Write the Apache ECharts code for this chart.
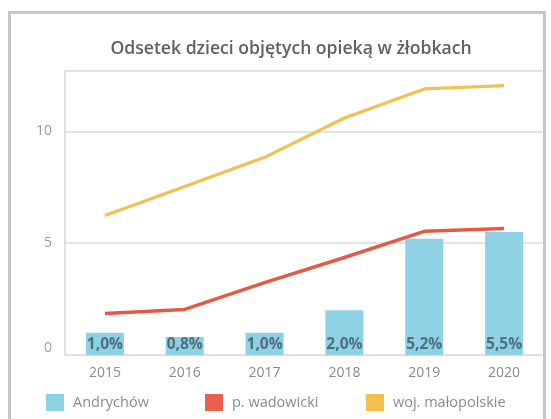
<!DOCTYPE html>
<html>
<head>
<meta charset="utf-8">
<script src="https://cdn.jsdelivr.net/npm/echarts@6/dist/echarts.min.js"></script>
<style>
html,body{margin:0;padding:0;background:#fff;}
#chart{width:551px;height:419px;}
</style>
</head>
<body>
<div id="chart"></div>
<script>
const titleText = 'Odsetek dzieci objętych opieką w żłobkach';
const years = ['2015', '2016', '2017', '2018', '2019', '2020'];
const seriesNames = ['Andrychów', 'p. wadowicki', 'woj. małopolskie'];
const andrychow = [1.0, 0.8, 1.0, 2.0, 5.2, 5.5];
const wadowicki = [1.86, 2.04, 3.24, 4.36, 5.53, 5.66];
const malopolskie = [6.24, 7.54, 8.84, 10.6, 11.9, 12.05];
const yTicks = [0, 5, 10];

const FONT = 'Open Sans';
const chart = echarts.init(document.getElementById('chart'));
function legendAt(name, left) {
  return {
    data: [name], left: left, top: 394, padding: 0, itemWidth: 18, itemHeight: 17, itemGap: 0,
    icon: 'rect',
    textStyle: { color: '#8a8a8a', fontSize: 14.5, fontFamily: FONT, padding: [0, 0, 0, 4] }
  };
}
chart.setOption({
  animation: false,
  backgroundColor: '#fff',
  title: {
    text: titleText, left: 286, textAlign: 'center', top: 35,
    textStyle: { color: '#616161', fontSize: 17.6, fontWeight: 600, fontFamily: FONT }
  },
  legend: [
    legendAt(seriesNames[0], 46),
    legendAt(seriesNames[1], 205),
    legendAt(seriesNames[2], 366)
  ],
  grid: { left: 65, right: 7, top: 71, bottom: 64 },
  xAxis: {
    type: 'category', data: years, boundaryGap: true,
    axisLine: { show: true, lineStyle: { color: '#dcdcdc', width: 1 } },
    axisTick: { show: false },
    axisLabel: { color: '#8a8a8a', fontSize: 14, fontFamily: FONT, margin: 11 }
  },
  yAxis: {
    type: 'value', min: 0, max: 12.7, interval: 5,
    axisLine: { show: true, lineStyle: { color: '#d6d6d6', width: 1.5 } },
    axisTick: { show: false },
    axisLabel: {
      color: '#9a9a9a', fontSize: 14, fontFamily: FONT, margin: 13, showMaxLabel: false,
      formatter: v => v === 0 ? '{z|0}' : (yTicks.includes(v) ? String(v) : ''),
      rich: { z: { color: '#9a9a9a', fontSize: 14, fontFamily: FONT, padding: [0, 0, 14, 0] } }
    },
    splitLine: { show: true, lineStyle: { color: '#dadada', width: 1.5 } }
  },
  series: [
    {
      name: seriesNames[0], type: 'bar', data: andrychow, barWidth: 38,
      itemStyle: { color: '#8fd1e4' },
      label: {
        show: true, position: 'insideBottom', distance: 2,
        formatter: p => p.value.toFixed(1).replace('.', ',') + '%',
        color: '#4f6f80', fontWeight: 'bold', fontSize: 15.5, fontFamily: FONT
      },
      z: 2
    },
    {
      name: seriesNames[1], type: 'line', data: wadowicki, symbol: 'none',
      lineStyle: { color: '#e35b45', width: 3.5 }, itemStyle: { color: '#e8604c' }, z: 3
    },
    {
      name: seriesNames[2], type: 'line', data: malopolskie, symbol: 'none',
      lineStyle: { color: '#f0c24f', width: 3.2 }, itemStyle: { color: '#f3c14b' }, z: 3
    }
  ],
  graphic: [{
    type: 'rect', z: 100, silent: true,
    shape: { x: 9.5, y: 12.5, width: 535, height: 440 },
    style: { fill: 'none', stroke: '#c8c8c8', lineWidth: 3 }
  }]
});
</script>
</body>
</html>
